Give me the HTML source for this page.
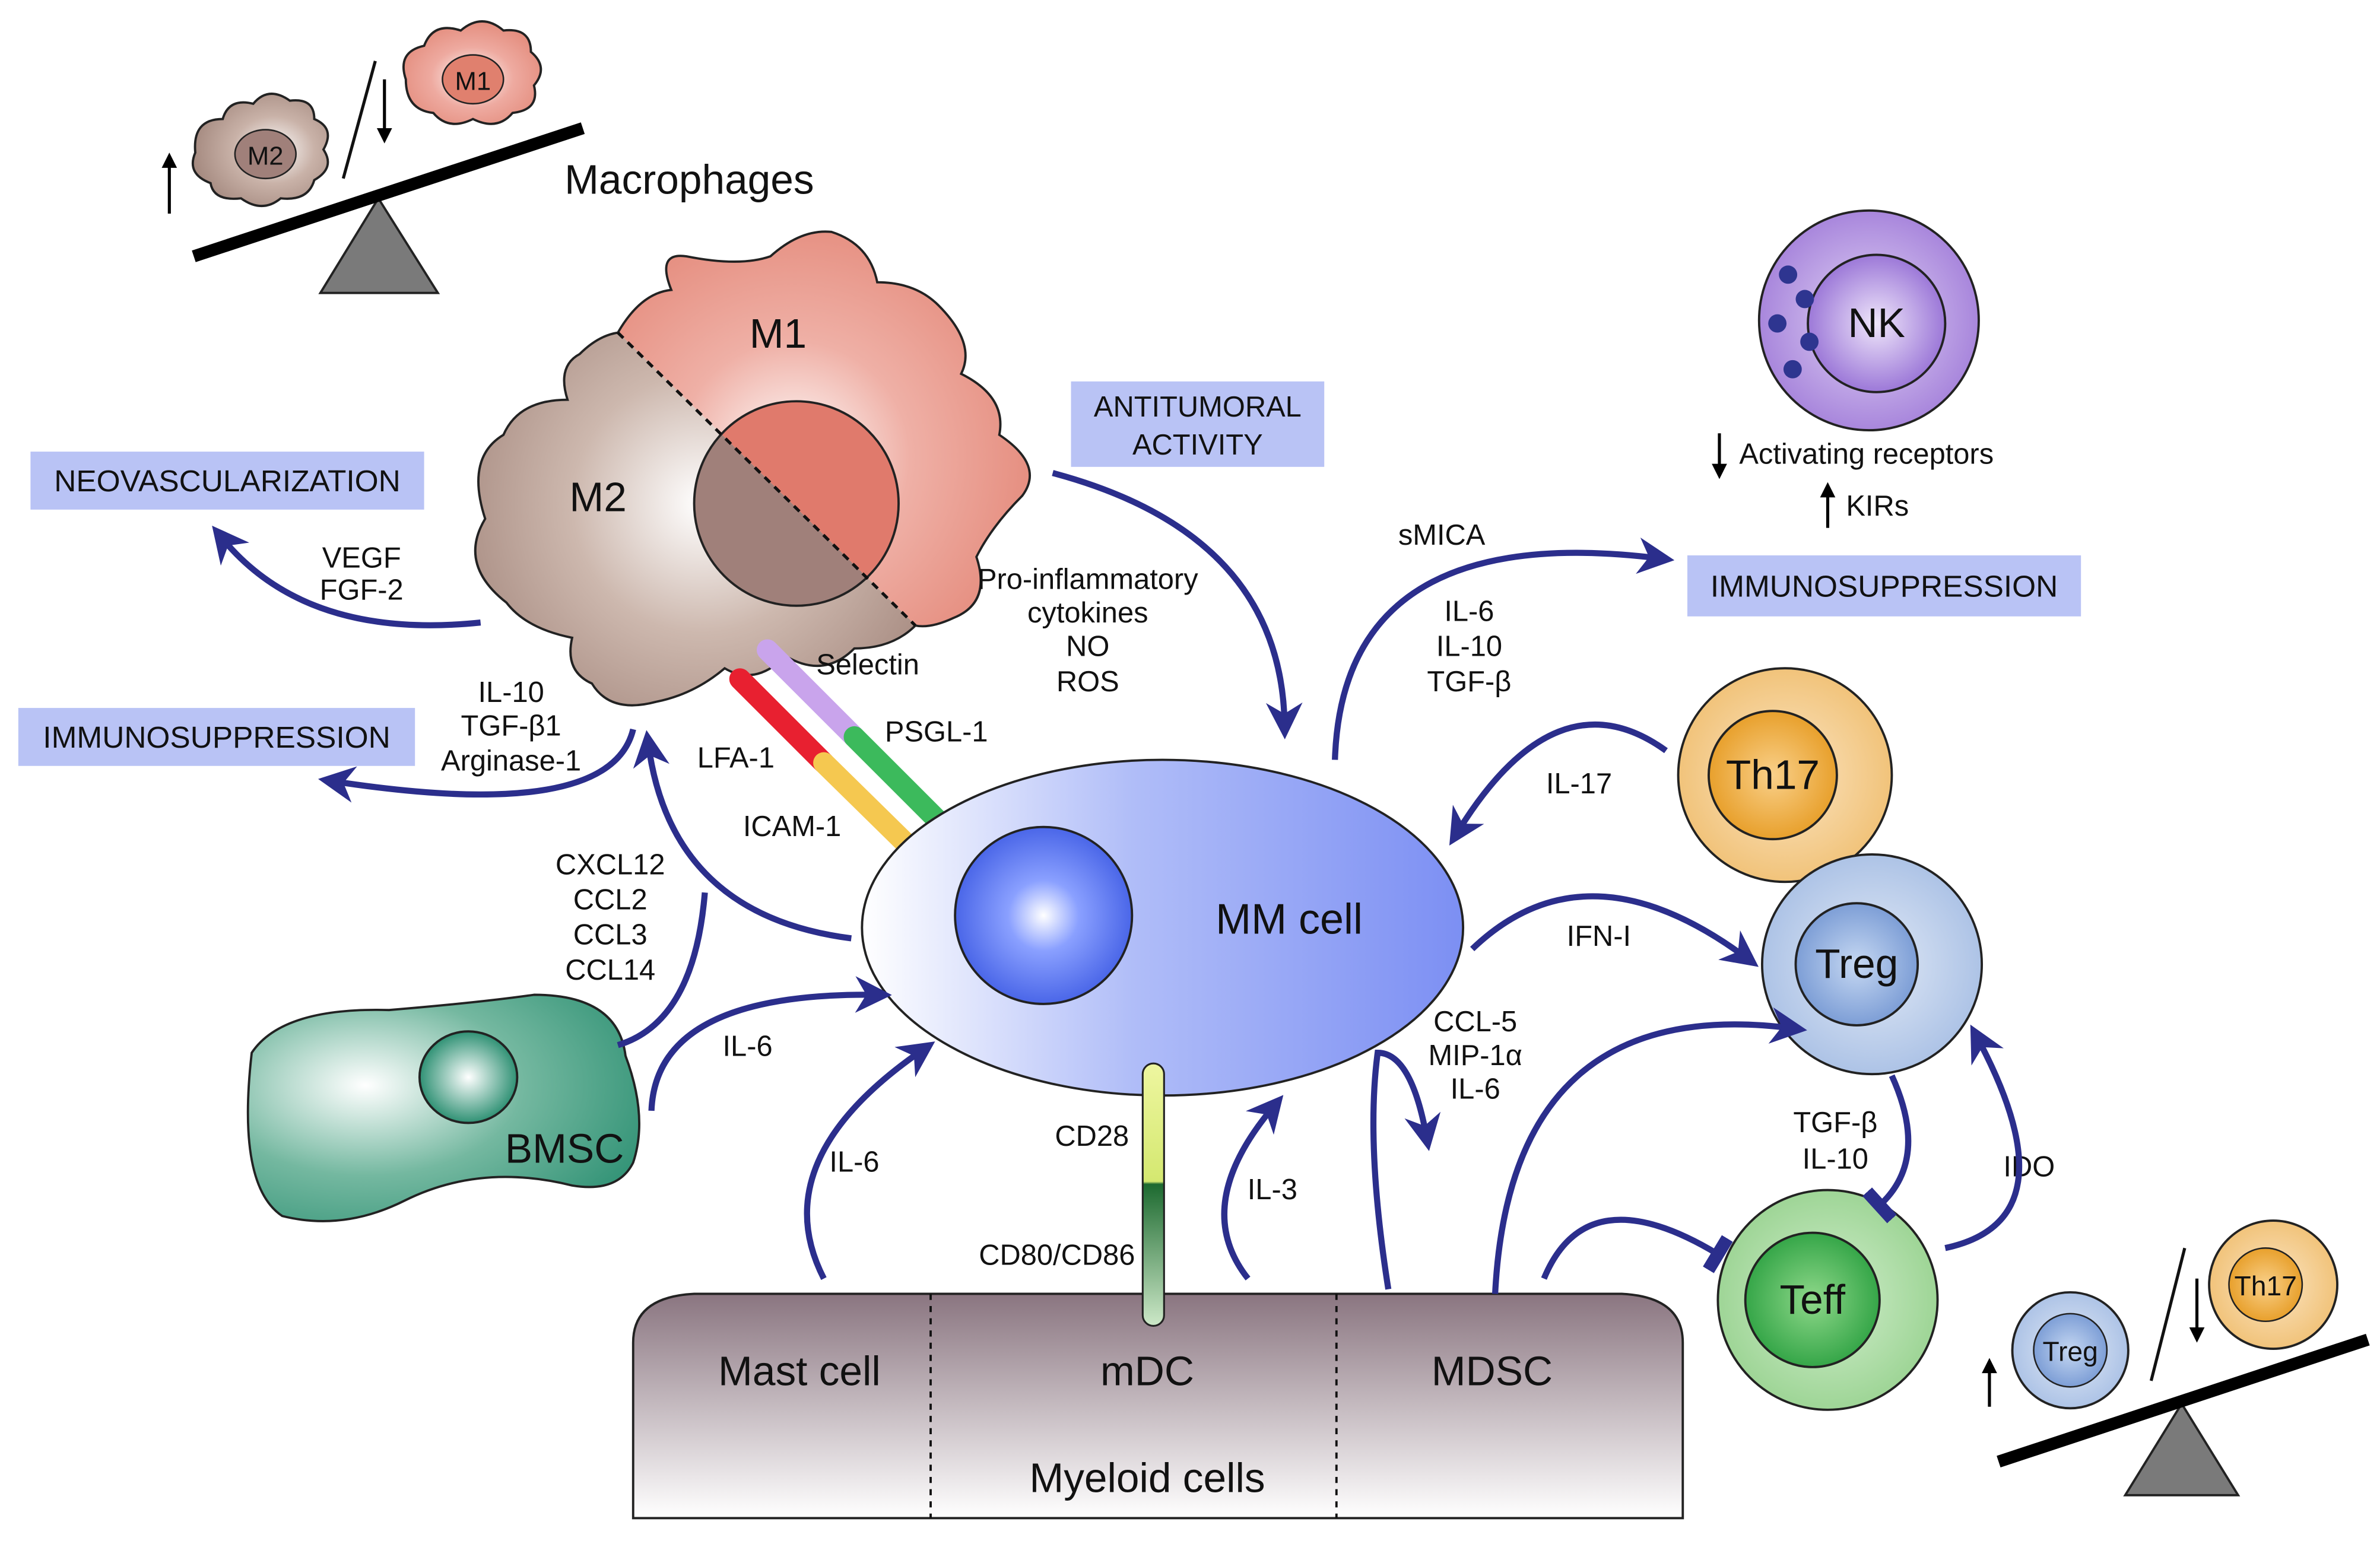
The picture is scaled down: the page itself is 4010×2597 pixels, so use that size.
<!DOCTYPE html>
<html><head><meta charset="utf-8"><style>
html,body{margin:0;padding:0;background:#fff;}
svg{display:block;}
text{font-family:"Liberation Sans",Arial,sans-serif;fill:#111;}
</style></head><body>
<svg width="4010" height="2597" viewBox="0 0 1560 1010" preserveAspectRatio="none" xmlns="http://www.w3.org/2000/svg">
<defs>
<radialGradient id="m1g" cx="0.5" cy="0.55" r="0.6"><stop offset="0" stop-color="#fff"/><stop offset="0.5" stop-color="#eeaaa0"/><stop offset="1" stop-color="#e28878"/></radialGradient>
<radialGradient id="m2g" cx="0.6" cy="0.5" r="0.6"><stop offset="0" stop-color="#fff"/><stop offset="0.5" stop-color="#c9b2a8"/><stop offset="1" stop-color="#a58a80"/></radialGradient>
<radialGradient id="bm1" gradientUnits="userSpaceOnUse" cx="520" cy="300" r="170"><stop offset="0" stop-color="#fff"/><stop offset="0.45" stop-color="#efb0a6"/><stop offset="1" stop-color="#e4897a"/></radialGradient>
<radialGradient id="bm2" gradientUnits="userSpaceOnUse" cx="460" cy="330" r="170"><stop offset="0" stop-color="#fff"/><stop offset="0.5" stop-color="#cdb8ae"/><stop offset="1" stop-color="#a88c82"/></radialGradient>
<clipPath id="c1"><polygon points="0,-181 900,-181 900,705"/></clipPath>
<clipPath id="c2"><polygon points="0,-181 900,705 0,705"/></clipPath>
<linearGradient id="mmg" x1="0" x2="1" y1="0" y2="0"><stop offset="0" stop-color="#fff"/><stop offset="0.45" stop-color="#b0bdf8"/><stop offset="1" stop-color="#7c8ff3"/></linearGradient>
<radialGradient id="mmn" cx="0.5" cy="0.5" r="0.5"><stop offset="0" stop-color="#fff"/><stop offset="0.4" stop-color="#8aa0ff"/><stop offset="1" stop-color="#4a66e8"/></radialGradient>
<radialGradient id="bm" cx="0.3" cy="0.4" r="0.8"><stop offset="0" stop-color="#fff"/><stop offset="0.5" stop-color="#74b8a0"/><stop offset="1" stop-color="#2f9174"/></radialGradient>
<radialGradient id="bmn" cx="0.5" cy="0.5" r="0.5"><stop offset="0" stop-color="#fff"/><stop offset="1" stop-color="#2f9174"/></radialGradient>
<linearGradient id="my" x1="0" x2="0" y1="0" y2="1"><stop offset="0" stop-color="#8a7580"/><stop offset="1" stop-color="#fff"/></linearGradient>
<radialGradient id="nk" cx="0.5" cy="0.5" r="0.5"><stop offset="0" stop-color="#e3d6f5"/><stop offset="1" stop-color="#a886dc"/></radialGradient>
<radialGradient id="nki" cx="0.5" cy="0.5" r="0.5"><stop offset="0" stop-color="#efe6fa"/><stop offset="1" stop-color="#9c78d8"/></radialGradient>
<radialGradient id="th" cx="0.5" cy="0.5" r="0.5"><stop offset="0" stop-color="#fbe5c4"/><stop offset="1" stop-color="#f1c37a"/></radialGradient>
<radialGradient id="thi" cx="0.5" cy="0.5" r="0.5"><stop offset="0" stop-color="#f9d08a"/><stop offset="1" stop-color="#e8a02c"/></radialGradient>
<radialGradient id="tr" cx="0.5" cy="0.5" r="0.5"><stop offset="0" stop-color="#e2eaf6"/><stop offset="1" stop-color="#adc3e6"/></radialGradient>
<radialGradient id="tri" cx="0.5" cy="0.5" r="0.5"><stop offset="0" stop-color="#c6d8f2"/><stop offset="1" stop-color="#7d9ed6"/></radialGradient>
<radialGradient id="te" cx="0.5" cy="0.5" r="0.5"><stop offset="0" stop-color="#d2eecd"/><stop offset="1" stop-color="#9ed596"/></radialGradient>
<radialGradient id="tei" cx="0.5" cy="0.5" r="0.5"><stop offset="0" stop-color="#8fd88a"/><stop offset="1" stop-color="#35a648"/></radialGradient>
<linearGradient id="cd" x1="0" x2="0" y1="0" y2="1"><stop offset="0" stop-color="#eef6a0"/><stop offset="0.45" stop-color="#d4e870"/><stop offset="0.46" stop-color="#1d6a30"/><stop offset="1" stop-color="#cde8c8"/></linearGradient>
<marker id="ah" viewBox="0 0 10 10" refX="6" refY="5" markerWidth="6" markerHeight="6" orient="auto"><path d="M0,0 L10,5 L0,10 L3,5 z" fill="#2b2e8c"/></marker>
<marker id="tb" viewBox="0 0 10 10" refX="5" refY="5" markerWidth="6" markerHeight="6" orient="auto"><path d="M4,-2 L6,-2 L6,12 L4,12 z" fill="#2b2e8c" stroke="#2b2e8c" stroke-width="1.5"/></marker>
</defs>

<!-- top-left seesaw -->
<polygon points="210,192 287,192 248,130" fill="#7a7a7a" stroke="#222" stroke-width="1.5"/>
<line x1="127" y1="168" x2="382" y2="84" stroke="#000" stroke-width="8"/>
<path d="M128,100 q-2,-22 18,-22 q4,-14 20,-10 q10,-12 24,-2 q16,-2 16,12 q14,6 6,20 q8,12 -6,20 q-4,14 -22,12 q-12,10 -26,0 q-18,2 -20,-10 q-16,-6 -10,-20z" fill="url(#m2g)" stroke="#222" stroke-width="1.5"/>
<ellipse cx="174" cy="101" rx="20" ry="16" fill="#a0807a" stroke="#222"/>
<text x="174" y="108" font-size="17" text-anchor="middle">M2</text>
<path d="M266,52 q-6,-18 12,-22 q6,-16 24,-10 q14,-12 28,0 q18,-2 18,14 q12,10 2,22 q4,16 -14,18 q-10,12 -26,4 q-16,8 -26,-4 q-18,-2 -18,-22z" fill="url(#m1g)" stroke="#222" stroke-width="1.5"/>
<ellipse cx="310" cy="52" rx="20" ry="16" fill="#e0806e" stroke="#222"/>
<text x="310" y="59" font-size="17" text-anchor="middle">M1</text>
<line x1="225" y1="117" x2="246" y2="40" stroke="#111" stroke-width="2"/>
<line x1="111" y1="140" x2="111" y2="108" stroke="#000" stroke-width="2"/><path d="M106,110 L111,100 L116,110z"/>
<line x1="252" y1="52" x2="252" y2="86" stroke="#000" stroke-width="2"/><path d="M247,84 L252,94 L257,84z"/>
<text x="370" y="127" font-size="27">Macrophages</text>

<!-- big macrophage -->
<path d="M405,218 Q420,192 440,190 Q430,165 450,168 Q485,175 505,168 Q525,150 545,152 Q570,160 575,185 Q600,185 615,200 Q640,225 630,245 Q660,260 655,285 Q685,305 670,325 Q650,345 640,365 Q650,395 625,405 Q610,412 600,410 Q585,425 560,425 Q540,445 515,430 Q495,450 475,438 Q455,455 430,460 Q400,468 388,448 Q370,440 375,418 Q345,412 332,395 Q300,370 318,340 Q305,300 330,285 Q340,262 372,262 Q365,240 380,232 Q392,220 405,218 Z" fill="url(#bm1)" clip-path="url(#c1)"/>
<path d="M405,218 Q420,192 440,190 Q430,165 450,168 Q485,175 505,168 Q525,150 545,152 Q570,160 575,185 Q600,185 615,200 Q640,225 630,245 Q660,260 655,285 Q685,305 670,325 Q650,345 640,365 Q650,395 625,405 Q610,412 600,410 Q585,425 560,425 Q540,445 515,430 Q495,450 475,438 Q455,455 430,460 Q400,468 388,448 Q370,440 375,418 Q345,412 332,395 Q300,370 318,340 Q305,300 330,285 Q340,262 372,262 Q365,240 380,232 Q392,220 405,218 Z" fill="url(#bm2)" clip-path="url(#c2)"/>
<path d="M405,218 Q420,192 440,190 Q430,165 450,168 Q485,175 505,168 Q525,150 545,152 Q570,160 575,185 Q600,185 615,200 Q640,225 630,245 Q660,260 655,285 Q685,305 670,325 Q650,345 640,365 Q650,395 625,405 Q610,412 600,410 Q585,425 560,425 Q540,445 515,430 Q495,450 475,438 Q455,455 430,460 Q400,468 388,448 Q370,440 375,418 Q345,412 332,395 Q300,370 318,340 Q305,300 330,285 Q340,262 372,262 Q365,240 380,232 Q392,220 405,218 Z" fill="none" stroke="#222" stroke-width="1.5"/>
<circle cx="522" cy="330" r="67" fill="#e07a6c" clip-path="url(#c1)"/>
<circle cx="522" cy="330" r="67" fill="#a0807a" clip-path="url(#c2)"/>
<circle cx="522" cy="330" r="67" fill="none" stroke="#222" stroke-width="1.5"/>
<line x1="405" y1="218" x2="600" y2="410" stroke="#111" stroke-width="2" stroke-dasharray="5,4"/>
<text x="510" y="228" font-size="27" text-anchor="middle">M1</text>
<text x="392" y="335" font-size="27" text-anchor="middle">M2</text>

<!-- receptors -->
<line x1="485" y1="445" x2="540" y2="500" stroke="#e82030" stroke-width="14" stroke-linecap="round"/>
<line x1="540" y1="500" x2="595" y2="554" stroke="#f5c850" stroke-width="14" stroke-linecap="round"/>
<line x1="503" y1="426" x2="560" y2="483" stroke="#c9a4ec" stroke-width="14" stroke-linecap="round"/>
<line x1="560" y1="483" x2="615" y2="538" stroke="#3cba5c" stroke-width="14" stroke-linecap="round"/>
<text x="535" y="442" font-size="19">Selectin</text>
<text x="580" y="486" font-size="19">PSGL-1</text>
<text x="457" y="503" font-size="19">LFA-1</text>
<text x="487" y="548" font-size="19">ICAM-1</text>

<!-- boxes -->
<rect x="20" y="296" width="258" height="38" fill="#b9c3f5"/>
<text x="149" y="322" font-size="20" text-anchor="middle">NEOVASCULARIZATION</text>
<rect x="12" y="464" width="260" height="38" fill="#b9c3f5"/>
<text x="142" y="490" font-size="20" text-anchor="middle">IMMUNOSUPPRESSION</text>
<rect x="702" y="250" width="166" height="56" fill="#b9c3f5"/>
<text x="785" y="273" font-size="19" text-anchor="middle">ANTITUMORAL</text>
<text x="785" y="298" font-size="19" text-anchor="middle">ACTIVITY</text>
<rect x="1106" y="364" width="258" height="40" fill="#b9c3f5"/>
<text x="1235" y="391" font-size="20" text-anchor="middle">IMMUNOSUPPRESSION</text>

<!-- texts left -->
<text x="237" y="372" font-size="19" text-anchor="middle">VEGF</text>
<text x="237" y="393" font-size="19" text-anchor="middle">FGF-2</text>
<text x="335" y="460" font-size="19" text-anchor="middle">IL-10</text>
<text x="335" y="482" font-size="19" text-anchor="middle">TGF-β1</text>
<text x="335" y="505" font-size="19" text-anchor="middle">Arginase-1</text>
<text x="400" y="573" font-size="19" text-anchor="middle">CXCL12</text>
<text x="400" y="596" font-size="19" text-anchor="middle">CCL2</text>
<text x="400" y="619" font-size="19" text-anchor="middle">CCL3</text>
<text x="400" y="642" font-size="19" text-anchor="middle">CCL14</text>
<text x="713" y="386" font-size="19" text-anchor="middle">Pro-inflammatory</text>
<text x="713" y="408" font-size="19" text-anchor="middle">cytokines</text>
<text x="713" y="430" font-size="19" text-anchor="middle">NO</text>
<text x="713" y="453" font-size="19" text-anchor="middle">ROS</text>

<!-- BMSC -->
<path d="M165,690 q20,-30 90,-28 q60,-5 95,-10 q55,0 60,40 q15,40 5,70 q-10,20 -40,15 q-60,-15 -110,10 q-40,20 -80,10 q-30,-20 -20,-107z" fill="url(#bm)" stroke="#222" stroke-width="1.5"/>
<ellipse cx="307" cy="706" rx="32" ry="30" fill="url(#bmn)" stroke="#222" stroke-width="1.5"/>
<text x="370" y="762" font-size="27" text-anchor="middle">BMSC</text>

<!-- MM cell -->
<ellipse cx="762" cy="608" rx="197" ry="110" fill="url(#mmg)" stroke="#222" stroke-width="1.5"/>
<circle cx="684" cy="600" r="58" fill="url(#mmn)" stroke="#222" stroke-width="1.5"/>
<text x="845" y="612" font-size="28" text-anchor="middle">MM cell</text>

<!-- myeloid -->
<path d="M415,995 L415,880 q0,-30 40,-32 L1063,848 q40,2 40,32 L1103,995 z" fill="url(#my)" stroke="#222" stroke-width="1.5"/>
<line x1="610" y1="848" x2="610" y2="995" stroke="#111" stroke-width="1.5" stroke-dasharray="4,4"/>
<line x1="876" y1="848" x2="876" y2="995" stroke="#111" stroke-width="1.5" stroke-dasharray="4,4"/>
<text x="524" y="908" font-size="27" text-anchor="middle">Mast cell</text>
<text x="752" y="908" font-size="27" text-anchor="middle">mDC</text>
<text x="978" y="908" font-size="27" text-anchor="middle">MDSC</text>
<text x="752" y="978" font-size="27" text-anchor="middle">Myeloid cells</text>
<rect x="749" y="697" width="14" height="172" rx="7" fill="url(#cd)" stroke="#222" stroke-width="1.2"/>
<text x="740" y="751" font-size="19" text-anchor="end">CD28</text>
<text x="744" y="829" font-size="19" text-anchor="end">CD80/CD86</text>

<!-- NK -->
<circle cx="1225" cy="210" r="72" fill="url(#nk)" stroke="#222" stroke-width="1.5"/>
<circle cx="1230" cy="212" r="45" fill="url(#nki)" stroke="#222" stroke-width="1.5"/>
<text x="1230" y="221" font-size="27" text-anchor="middle">NK</text>
<g fill="#2e3590"><circle cx="1183" cy="196" r="6"/><circle cx="1165" cy="212" r="6"/><circle cx="1186" cy="224" r="6"/><circle cx="1175" cy="242" r="6"/><circle cx="1172" cy="180" r="6"/></g>
<line x1="1127" y1="284" x2="1127" y2="306" stroke="#000" stroke-width="2"/><path d="M1122,304 L1127,314 L1132,304z"/>
<text x="1140" y="304" font-size="19">Activating receptors</text>
<line x1="1198" y1="346" x2="1198" y2="324" stroke="#000" stroke-width="2"/><path d="M1193,326 L1198,316 L1203,326z"/>
<text x="1210" y="338" font-size="19">KIRs</text>

<!-- Th17 Treg Teff -->
<circle cx="1170" cy="508" r="70" fill="url(#th)" stroke="#222" stroke-width="1.5"/>
<circle cx="1162" cy="508" r="42" fill="url(#thi)" stroke="#222" stroke-width="1.5"/>
<text x="1162" y="517" font-size="27" text-anchor="middle">Th17</text>
<circle cx="1227" cy="632" r="72" fill="url(#tr)" stroke="#222" stroke-width="1.5"/>
<circle cx="1217" cy="632" r="40" fill="url(#tri)" stroke="#222" stroke-width="1.5"/>
<text x="1217" y="641" font-size="27" text-anchor="middle">Treg</text>
<circle cx="1198" cy="852" r="72" fill="url(#te)" stroke="#222" stroke-width="1.5"/>
<circle cx="1188" cy="852" r="44" fill="url(#tei)" stroke="#222" stroke-width="1.5"/>
<text x="1188" y="861" font-size="27" text-anchor="middle">Teff</text>

<!-- bottom right seesaw -->
<polygon points="1393,980 1467,980 1430,920" fill="#7a7a7a" stroke="#222" stroke-width="1.5"/>
<line x1="1310" y1="958" x2="1552" y2="878" stroke="#000" stroke-width="8"/>
<circle cx="1357" cy="885" r="38" fill="url(#tr)" stroke="#222" stroke-width="1.5"/>
<circle cx="1357" cy="885" r="24" fill="url(#tri)" stroke="#222"/>
<text x="1357" y="892" font-size="18" text-anchor="middle">Treg</text>
<circle cx="1490" cy="842" r="42" fill="url(#th)" stroke="#222" stroke-width="1.5"/>
<circle cx="1485" cy="842" r="24" fill="url(#thi)" stroke="#222"/>
<text x="1485" y="849" font-size="18" text-anchor="middle">Th17</text>
<line x1="1410" y1="905" x2="1432" y2="818" stroke="#111" stroke-width="2"/>
<line x1="1304" y1="922" x2="1304" y2="898" stroke="#000" stroke-width="2"/><path d="M1299,900 L1304,890 L1309,900z"/>
<line x1="1440" y1="838" x2="1440" y2="872" stroke="#000" stroke-width="2"/><path d="M1435,870 L1440,880 L1445,870z"/>

<!-- right texts -->
<text x="945" y="357" font-size="19" text-anchor="middle">sMICA</text>
<text x="963" y="407" font-size="19" text-anchor="middle">IL-6</text>
<text x="963" y="430" font-size="19" text-anchor="middle">IL-10</text>
<text x="963" y="453" font-size="19" text-anchor="middle">TGF-β</text>
<text x="1035" y="520" font-size="19" text-anchor="middle">IL-17</text>
<text x="1048" y="620" font-size="19" text-anchor="middle">IFN-I</text>
<text x="967" y="676" font-size="19" text-anchor="middle">CCL-5</text>
<text x="967" y="698" font-size="19" text-anchor="middle">MIP-1α</text>
<text x="967" y="720" font-size="19" text-anchor="middle">IL-6</text>
<text x="490" y="692" font-size="19" text-anchor="middle">IL-6</text>
<text x="560" y="768" font-size="19" text-anchor="middle">IL-6</text>
<text x="834" y="786" font-size="19" text-anchor="middle">IL-3</text>
<text x="1203" y="742" font-size="19" text-anchor="middle">TGF-β</text>
<text x="1203" y="766" font-size="19" text-anchor="middle">IL-10</text>
<text x="1330" y="771" font-size="19" text-anchor="middle">IDO</text>

<!-- arrows -->
<g fill="none" stroke="#2b2e8c" stroke-width="4">
<path d="M315,408 Q200,420 145,352" marker-end="url(#ah)"/>
<path d="M415,478 Q400,540 218,512" marker-end="url(#ah)"/>
<path d="M558,615 Q440,600 425,488" marker-end="url(#ah)"/>
<path d="M405,685 Q455,670 462,585"/>
<path d="M427,728 Q430,650 575,652" marker-end="url(#ah)"/>
<path d="M540,838 Q500,760 605,688" marker-end="url(#ah)"/>
<path d="M818,838 Q780,790 835,725" marker-end="url(#ah)"/>
<path d="M910,845 Q895,750 903,690 Q925,690 935,745" marker-end="url(#ah)"/>
<path d="M690,310 Q840,350 842,475" marker-end="url(#ah)"/>
<path d="M875,498 Q880,340 1088,366" marker-end="url(#ah)"/>
<path d="M1092,492 Q1020,440 955,546" marker-end="url(#ah)"/>
<path d="M965,622 Q1040,550 1145,628" marker-end="url(#ah)"/>
<path d="M980,848 Q990,650 1175,674" marker-end="url(#ah)"/>
<path d="M1012,838 Q1040,770 1126,822" marker-end="url(#tb)"/>
<path d="M1240,705 Q1265,760 1232,790" marker-end="url(#tb)"/>
<path d="M1275,818 Q1360,800 1296,680" marker-end="url(#ah)"/>
</g>
</svg>
</body></html>
